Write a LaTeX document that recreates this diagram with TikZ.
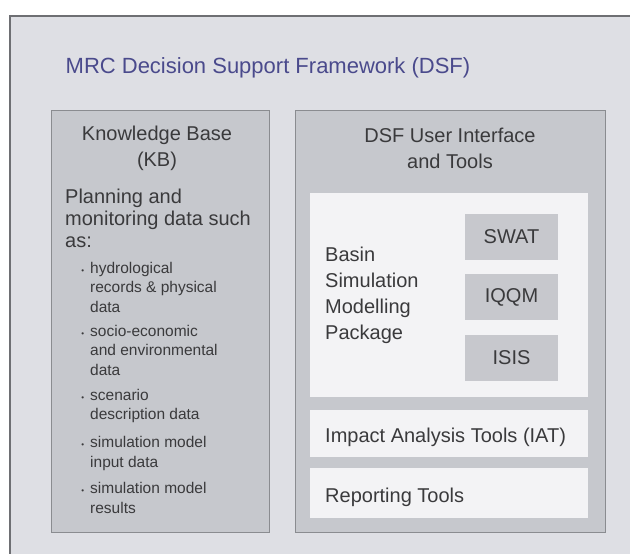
\documentclass[tikz,border=0pt]{standalone}
\usepackage{fontspec}
\setmainfont{Liberation Sans}
\usetikzlibrary{positioning}

\definecolor{framebg}{HTML}{DEDFE4}
\definecolor{frameline}{HTML}{6E6F73}
\definecolor{panelbg}{HTML}{C6C8CD}
\definecolor{panelline}{HTML}{8A8C90}
\definecolor{boxbg}{HTML}{F3F3F5}
\definecolor{modelbg}{HTML}{C7C8CD}
\definecolor{txt}{HTML}{3A3A3C}
\definecolor{titleblue}{HTML}{4A4A8C}

\begin{document}
\begin{tikzpicture}[
            x=1pt, y=-1pt,
            font=\fontsize{20}{26}\selectfont,
            text=txt,
            % Stili
            panel/.style={rectangle, anchor=north west, draw=panelline, line width=1.4pt, fill=panelbg, inner sep=0pt},
            whitebox/.style={rectangle, anchor=north west, fill=boxbg, inner sep=0pt},
            model/.style={rectangle, fill=modelbg, minimum width=93, minimum height=46, inner sep=0pt},
            heading/.style={align=center, inner sep=0pt},
            label/.style={align=left, inner sep=0pt, anchor=west},
            kbitem/.style={align=left, inner sep=0pt, anchor=west, font=\fontsize{15.5}{19.5}\selectfont}
        ]
        \useasboundingbox (0,0) rectangle (630,554);

        % Cornice
        \fill[framebg] (10,16) rectangle (630,554);
        \draw[frameline, line width=2pt] (10,554) -- (10,16) -- (630,16);

        \node (title) [text=titleblue, font=\fontsize{22}{27}\selectfont, inner sep=0pt] at (268,68) {MRC Decision Support Framework (DSF)};

        % Knowledge Base
        \node (kb) [panel, minimum width=218, minimum height=422] at (51,110) {};
        \node (kbhead) [heading] at (157,148) {Knowledge Base\\(KB)};
        \node (kbintro) [label, font=\fontsize{20}{22}\selectfont] at (65,218.5) {Planning and\\monitoring data such\\as:};

        \newcommand{\dotmark}{\llap{{\fontsize{8}{8}\selectfont\textbullet}\hspace{6pt}}}
        \node (kb1) [kbitem] at (90,287) {\dotmark hydrological\\records \& physical\\data};
        \node (kb2) [kbitem] at (90,350) {\dotmark socio-economic\\and environmental\\data};
        \node (kb3) [kbitem] at (90,406) {\dotmark scenario\\description data};
        \node (kb4) [kbitem] at (90,453.5) {\dotmark simulation model\\input data};
        \node (kb5) [kbitem] at (90,498) {\dotmark simulation model\\results};

        % DSF User Interface
        \node (ui) [panel, minimum width=310, minimum height=422] at (295,110) {};
        \node (uihead) [heading] at (450,148) {DSF User Interface\\and Tools};

        \node (basin) [whitebox, minimum width=278, minimum height=204] at (310,193) {};
        \node (basintext) [label] at (325,295.5) {Basin\\Simulation\\Modelling\\Package};

        \node (swat) [model] at (511.5,237) {SWAT};
        \node (iqqm) [model, below=14pt of swat] {IQQM};
        \node (isis) [model, below=14pt of iqqm] {ISIS};

        \node (iat) [whitebox, minimum width=278, minimum height=47] at (310,410) {};
        \node (iattext) [label] at (325,437) {Impact Analysis Tools (IAT)};

        \node (rep) [whitebox, minimum width=278, minimum height=50] at (310,468) {};
        \node (reptext) [label] at (325,497) {Reporting Tools};

    \end{tikzpicture}
\end{document}
